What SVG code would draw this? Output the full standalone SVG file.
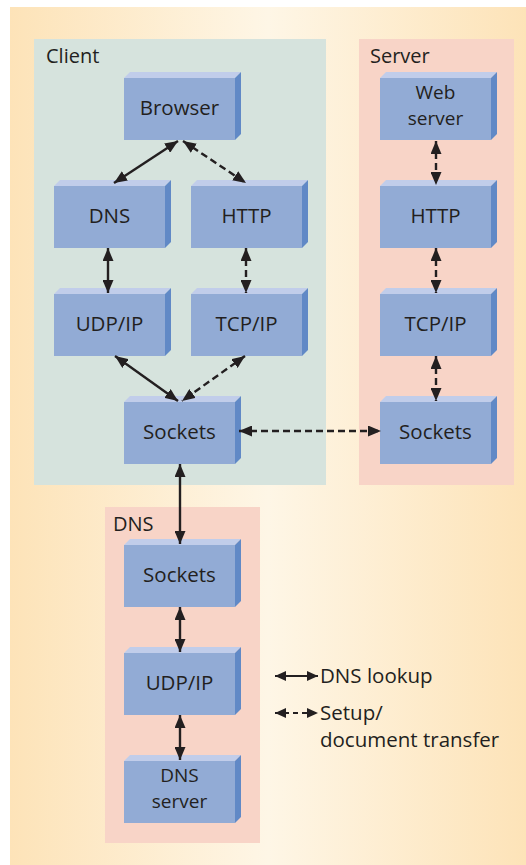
<svg xmlns="http://www.w3.org/2000/svg" width="526" height="865" viewBox="0 0 526 865">
  <defs>
    <linearGradient id="bg" x1="0" y1="0" x2="1" y2="0">
      <stop offset="0" stop-color="#FDE3B8"/>
      <stop offset="0.5" stop-color="#FEF6E6"/>
      <stop offset="1" stop-color="#FDE3B8"/>
    </linearGradient>
    <marker id="ah" markerUnits="userSpaceOnUse" markerWidth="13" markerHeight="11" refX="13" refY="5.5" orient="auto-start-reverse" viewBox="0 0 13 11">
      <path d="M0,0 L13,5.5 L0,11 z" fill="#231F20"/>
    </marker>
    <marker id="ahs" markerUnits="userSpaceOnUse" markerWidth="11" markerHeight="10" refX="11" refY="5" orient="auto-start-reverse" viewBox="0 0 11 10">
      <path d="M0,0 L11,5 L0,10 z" fill="#231F20"/>
    </marker>
  </defs>
  <style>
    .region-client { fill: #D6E3DD; }
    .region-pink { fill: #F8D4C7; }
    .front { fill: #92ABD5; }
    .top { fill: #C1CDEA; }
    .side { fill: #6189C6; }
    text { font-family: "Open Sans", "Liberation Sans", sans-serif; fill: #231F20; }
    .lbl { font-size: 20.5px; text-anchor: middle; }
    .lbl2 { font-size: 19px; text-anchor: middle; }
    .rlbl { font-size: 20px; }
    .llbl { font-size: 20.5px; }
    .solid { stroke: #231F20; stroke-width: 2.4; fill: none; marker-start: url(#ah); marker-end: url(#ah); }
    .dash { stroke: #231F20; stroke-width: 2.4; fill: none; stroke-dasharray: 7 4; marker-start: url(#ah); marker-end: url(#ah); }
    .leg { stroke: #231F20; stroke-width: 2.2; fill: none; marker-start: url(#ahs); marker-end: url(#ahs); }
  </style>

  <!-- page background -->
  <rect x="0" y="0" width="526" height="865" fill="#FFFFFF"/>
  <rect x="10" y="7" width="516" height="858" fill="url(#bg)"/>

  <!-- regions -->
  <g id="region-client">
    <rect class="region-client" x="34" y="39" width="292" height="446"/>
    <text class="rlbl" x="46" y="63">Client</text>
  </g>
  <g id="region-server">
    <rect class="region-pink" x="359" y="39" width="155" height="446"/>
    <text class="rlbl" x="370" y="63">Server</text>
  </g>
  <g id="region-dns">
    <rect class="region-pink" x="105" y="507" width="155" height="336"/>
    <text class="rlbl" x="113" y="531">DNS</text>
  </g>

  <!-- client nodes -->
  <g id="client-browser">
    <polygon class="top" points="124,78 130,72 241,72 235,78"/>
    <polygon class="side" points="235,78 241,72 241,134 235,140"/>
    <rect class="front" x="124" y="78" width="111" height="62"/>
    <text class="lbl" x="179.5" y="115">Browser</text>
  </g>
  <g id="client-dns">
    <polygon class="top" points="54,186 60,180 171,180 165,186"/>
    <polygon class="side" points="165,186 171,180 171,242 165,248"/>
    <rect class="front" x="54" y="186" width="111" height="62"/>
    <text class="lbl" x="109.5" y="223">DNS</text>
  </g>
  <g id="client-http">
    <polygon class="top" points="191,186 197,180 308,180 302,186"/>
    <polygon class="side" points="302,186 308,180 308,242 302,248"/>
    <rect class="front" x="191" y="186" width="111" height="62"/>
    <text class="lbl" x="246.5" y="223">HTTP</text>
  </g>
  <g id="client-udp">
    <polygon class="top" points="54,294 60,288 171,288 165,294"/>
    <polygon class="side" points="165,294 171,288 171,350 165,356"/>
    <rect class="front" x="54" y="294" width="111" height="62"/>
    <text class="lbl" x="109.5" y="331">UDP/IP</text>
  </g>
  <g id="client-tcp">
    <polygon class="top" points="191,294 197,288 308,288 302,294"/>
    <polygon class="side" points="302,294 308,288 308,350 302,356"/>
    <rect class="front" x="191" y="294" width="111" height="62"/>
    <text class="lbl" x="246.5" y="331">TCP/IP</text>
  </g>
  <g id="client-sockets">
    <polygon class="top" points="124,402 130,396 241,396 235,402"/>
    <polygon class="side" points="235,402 241,396 241,458 235,464"/>
    <rect class="front" x="124" y="402" width="111" height="62"/>
    <text class="lbl" x="179.5" y="439">Sockets</text>
  </g>

  <!-- server nodes -->
  <g id="server-web">
    <polygon class="top" points="380,78 386,72 497,72 491,78"/>
    <polygon class="side" points="491,78 497,72 497,134 491,140"/>
    <rect class="front" x="380" y="78" width="111" height="62"/>
    <text class="lbl2" x="435.5" y="99">Web<tspan x="435.5" dy="26">server</tspan></text>
  </g>
  <g id="server-http">
    <polygon class="top" points="380,186 386,180 497,180 491,186"/>
    <polygon class="side" points="491,186 497,180 497,242 491,248"/>
    <rect class="front" x="380" y="186" width="111" height="62"/>
    <text class="lbl" x="435.5" y="223">HTTP</text>
  </g>
  <g id="server-tcp">
    <polygon class="top" points="380,294 386,288 497,288 491,294"/>
    <polygon class="side" points="491,294 497,288 497,350 491,356"/>
    <rect class="front" x="380" y="294" width="111" height="62"/>
    <text class="lbl" x="435.5" y="331">TCP/IP</text>
  </g>
  <g id="server-sockets">
    <polygon class="top" points="380,402 386,396 497,396 491,402"/>
    <polygon class="side" points="491,402 497,396 497,458 491,464"/>
    <rect class="front" x="380" y="402" width="111" height="62"/>
    <text class="lbl" x="435.5" y="439">Sockets</text>
  </g>

  <!-- DNS nodes -->
  <g id="dns-sockets">
    <polygon class="top" points="124,545 130,539 241,539 235,545"/>
    <polygon class="side" points="235,545 241,539 241,601 235,607"/>
    <rect class="front" x="124" y="545" width="111" height="62"/>
    <text class="lbl" x="179.5" y="582">Sockets</text>
  </g>
  <g id="dns-udp">
    <polygon class="top" points="124,653 130,647 241,647 235,653"/>
    <polygon class="side" points="235,653 241,647 241,709 235,715"/>
    <rect class="front" x="124" y="653" width="111" height="62"/>
    <text class="lbl" x="179.5" y="690">UDP/IP</text>
  </g>
  <g id="dns-server">
    <polygon class="top" points="124,761 130,755 241,755 235,761"/>
    <polygon class="side" points="235,761 241,755 241,817 235,823"/>
    <rect class="front" x="124" y="761" width="111" height="62"/>
    <text class="lbl2" x="179.5" y="782">DNS<tspan x="179.5" dy="26">server</tspan></text>
  </g>

  <!-- connectors -->
  <g id="connectors">
    <line class="solid" x1="178" y1="141" x2="114" y2="183"/>
    <line class="dash" x1="183" y1="141" x2="246" y2="183"/>
    <line class="solid" x1="108" y1="248" x2="108" y2="293"/>
    <line class="dash" x1="246" y1="248" x2="246" y2="293"/>
    <line class="solid" x1="115" y1="356" x2="178" y2="401"/>
    <line class="dash" x1="245" y1="356" x2="182" y2="401"/>
    <line class="dash" x1="436" y1="141" x2="436" y2="185"/>
    <line class="dash" x1="436" y1="248" x2="436" y2="293"/>
    <line class="dash" x1="436" y1="356" x2="436" y2="401"/>
    <line class="dash" x1="239" y1="431" x2="381" y2="431"/>
    <line class="solid" x1="180" y1="464" x2="180" y2="544"/>
    <line class="solid" x1="180" y1="607" x2="180" y2="652"/>
    <line class="solid" x1="180" y1="715" x2="180" y2="760"/>
  </g>

  <!-- legend -->
  <g id="legend">
    <line class="leg" x1="275" y1="676" x2="318" y2="676"/>
    <text class="llbl" x="320" y="683">DNS lookup</text>
    <line class="leg" x1="275" y1="713" x2="318" y2="713" stroke-dasharray="5 4"/>
    <text class="llbl" x="320" y="720">Setup/<tspan x="320" dy="27">document transfer</tspan></text>
  </g>
</svg>
